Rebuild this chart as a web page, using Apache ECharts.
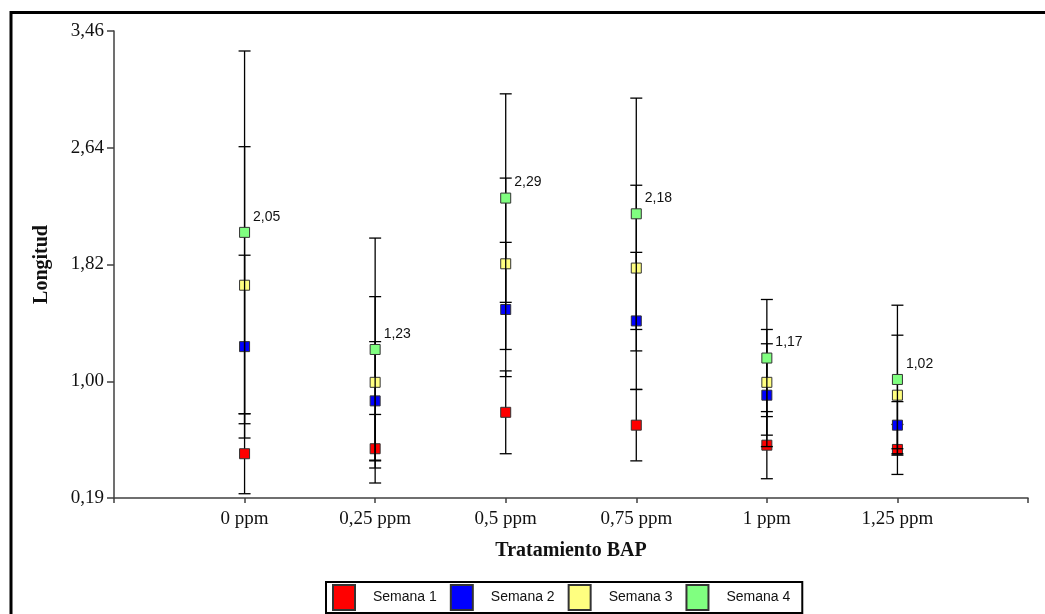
<!DOCTYPE html>
<html>
<head>
<meta charset="utf-8">
<script src="https://cdn.jsdelivr.net/npm/echarts@6/dist/echarts.min.js"></script>
<style>
  html, body { margin: 0; padding: 0; background: #fff; }
  #chart { width: 1045px; height: 614px; }
</style>
</head>
<body>
<div id="chart"></div>
<script>
// categorias del eje X
var categories = ['0 ppm', '0,25 ppm', '0,5 ppm', '0,75 ppm', '1 ppm', '1,25 ppm']
// medias por semana
var semana1 = [0.50, 0.535, 0.79, 0.70, 0.56, 0.53]
var semana2 = [1.25, 0.87, 1.51, 1.43, 0.91, 0.70]
var semana3 = [1.68, 1.00, 1.83, 1.80, 1.00, 0.91]
var semana4 = [2.05, 1.23, 2.29, 2.18, 1.17, 1.02]
// desviaciones (barras de error)
var desv1 = [0.28, 0.24, 0.29, 0.25, 0.235, 0.175]
var desv2 = [0.64, 0.415, 0.47, 0.48, 0.36, 0.165]
var desv3 = [0.97, 0.60, 0.60, 0.58, 0.37, 0.42]
var desv4 = [1.27, 0.78, 0.73, 0.81, 0.41, 0.52]
// eje Y
var yTicks = [0.19, 1.0075, 1.825, 2.6425, 3.46]
var yTickLabels = ['0,19', '1,00', '1,82', '2,64', '3,46']

var seriesNames = ['Semana 1', 'Semana 2', 'Semana 3', 'Semana 4']
var seriesColors = ['#ff0000', '#0000ff', '#ffff80', '#80ff80']
var means = [semana1, semana2, semana3, semana4]
var desvs = [desv1, desv2, desv3, desv4]

var serifFont = "'Liberation Serif', 'Times New Roman', serif"
var sansFont = "'Liberation Sans', Arial, sans-serif"

function renderErr(params, api) {
    var x = api.value(0)
    var top = api.coord([x, api.value(2)])
    var bot = api.coord([x, api.value(1)])
    var style = { stroke: '#000', lineWidth: 1.3 }
    return {
        type: 'group',
        children: [
            { type: 'line', shape: { x1: top[0], y1: top[1], x2: bot[0], y2: bot[1] }, style: style },
            { type: 'line', shape: { x1: top[0] - 6, y1: top[1], x2: top[0] + 6, y2: top[1] }, style: style },
            { type: 'line', shape: { x1: bot[0] - 6, y1: bot[1], x2: bot[0] + 6, y2: bot[1] }, style: style }
        ]
    }
}

var series = []
for (var s = 0; s < 4; s++) {
    var errData = []
    var ptData = []
    for (var i = 0; i < categories.length; i++) {
        errData.push([i + 1, means[s][i] - desvs[s][i], means[s][i] + desvs[s][i]])
        ptData.push([i + 1, means[s][i]])
    }
    series.push({
        name: seriesNames[s] + ' error',
        type: 'custom',
        renderItem: renderErr,
        data: errData,
        z: 2 + s * 2,
        silent: true
    })
    series.push({
        name: seriesNames[s],
        type: 'scatter',
        symbol: 'rect',
        symbolSize: 10,
        data: ptData,
        z: 3 + s * 2,
        itemStyle: { color: seriesColors[s], borderColor: '#333', borderWidth: 1, opacity: 1 },
        label: {
            show: s === 3,
            position: [14, -17],
            fontFamily: sansFont,
            fontSize: 14,
            color: '#111',
            formatter: function (p) { return p.value[1].toFixed(2).replace('.', ',') }
        }
    })
}

var chart = echarts.init(document.getElementById('chart'), null, { renderer: 'canvas' })
chart.setOption({
    animation: false,
    backgroundColor: '#fff',
    grid: { left: 114, right: 17, top: 31, bottom: 116 },
    xAxis: {
        type: 'value',
        min: 0,
        max: 7,
        interval: 1,
        name: 'Tratamiento BAP',
        nameLocation: 'middle',
        nameGap: 43,
        nameTextStyle: { fontFamily: serifFont, fontSize: 20, fontWeight: 'bold', color: '#111' },
        splitLine: { show: false },
        axisLine: { lineStyle: { color: '#404040', width: 1.5 } },
        axisTick: { length: 5, lineStyle: { color: '#404040', width: 1.5 } },
        axisLabel: {
            margin: 12,
            fontFamily: serifFont,
            fontSize: 19,
            color: '#111',
            formatter: function (v) { return categories[v - 1] || '' }
        }
    },
    yAxis: {
        type: 'value',
        min: 0.19,
        max: 3.46,
        name: 'Longitud',
        nameLocation: 'middle',
        nameGap: 62,
        nameRotate: 90,
        nameTextStyle: { fontFamily: serifFont, fontSize: 20, fontWeight: 'bold', color: '#111' },
        splitLine: { show: false },
        axisLine: { show: true, lineStyle: { color: '#404040', width: 1.5 } },
        axisTick: { show: true, length: 7, customValues: yTicks, lineStyle: { color: '#404040', width: 1.5 } },
        axisLabel: {
            margin: 10,
            customValues: yTicks,
            fontFamily: serifFont,
            fontSize: 19,
            color: '#111',
            padding: [3, 0, 0, 0],
            formatter: function (v) {
                for (var k = 0; k < yTicks.length; k++) {
                    if (Math.abs(yTicks[k] - v) < 1e-6) return yTickLabels[k]
                }
                return ''
            }
        }
    },
    legend: {
        data: seriesNames,
        left: 326,
        top: 582,
        orient: 'horizontal',
        icon: 'rect',
        itemWidth: 22,
        itemHeight: 25,
        itemGap: 13,
        padding: [2, 12, 2, 6],
        borderColor: '#000',
        borderWidth: 2,
        textStyle: { fontFamily: sansFont, fontSize: 14, color: '#111', padding: [0, 0, 0, 13] }
    },
    graphic: [{
        type: 'rect',
        shape: { x: 11, y: 12.5, width: 1100, height: 700 },
        style: { fill: null, stroke: '#000', lineWidth: 3 },
        silent: true
    }],
    series: series
})
</script>
</body>
</html>
